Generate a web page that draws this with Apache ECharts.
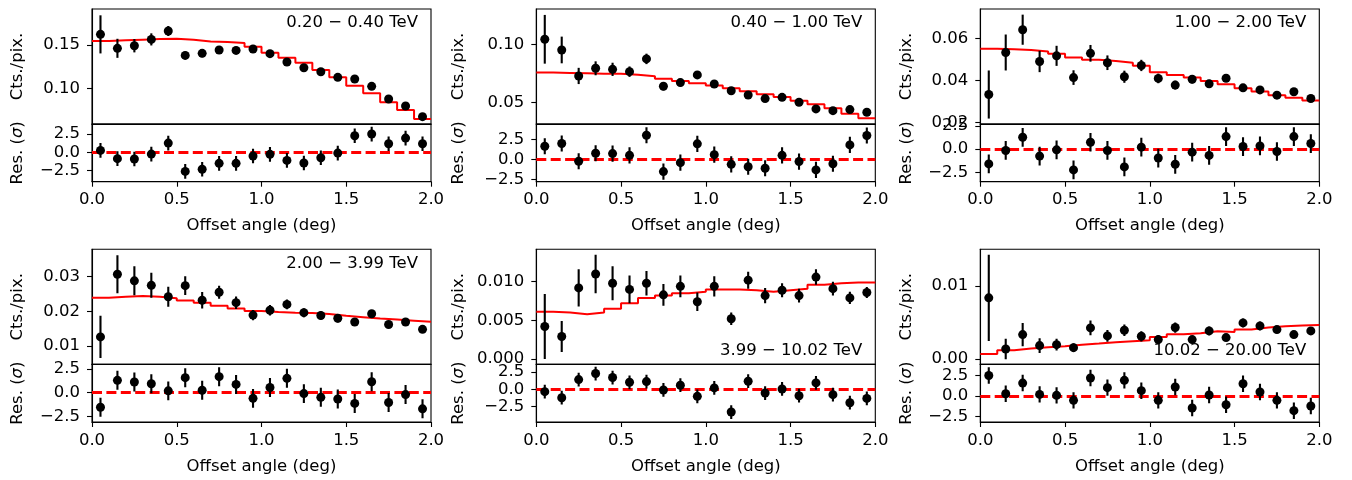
<!DOCTYPE html>
<html>
<head>
<meta charset="utf-8">
<script src="https://cdn.jsdelivr.net/npm/echarts@6/dist/echarts.min.js"></script>
<style>
html,body{margin:0;padding:0;background:#fff;}
#chart{width:1352px;height:480px;}
</style>
</head>
<body>
<div id="chart"></div>
<script>
// ---------- data ----------
const offsets = [0.05,0.15,0.25,0.35,0.45,0.55,0.65,0.75,0.85,0.95,1.05,1.15,1.25,1.35,1.45,1.55,1.65,1.75,1.85,1.95];
const binEdges = [0,0.1,0.2,0.3,0.4,0.5,0.6,0.7,0.8,0.9,1.0,1.1,1.2,1.3,1.4,1.5,1.6,1.7,1.8,1.9,2.0];
const xTicks = [0, 0.5, 1.0, 1.5, 2.0];
const resTicks = [-2.5, 0, 2.5];
const RES_ERR = 1;
const ZERO_LINE = 0;

const energyLabels = ['0.20 \u2212 0.40 TeV','0.40 \u2212 1.00 TeV','1.00 \u2212 2.00 TeV','2.00 \u2212 3.99 TeV','3.99 \u2212 10.02 TeV','10.02 \u2212 20.00 TeV'];

// 0.20 - 0.40 TeV
const cts1 = [0.1623,0.1462,0.1492,0.1565,0.1662,0.1380,0.1404,0.1442,0.1438,0.1454,0.1400,0.1304,0.1238,0.1192,0.1127,0.1108,0.1023,0.0877,0.0796,0.0673];
const err1 = [0.022,0.011,0.0077,0.007,0.0058,0.0045,0.0045,0.0043,0.0042,0.004,0.004,0.004,0.0038,0.0037,0.0036,0.0035,0.0034,0.0032,0.0031,0.003];
const model1 = [0.1546,0.1554,0.1562,0.1569,0.1573,0.1562,0.1542,0.1535,0.1523,0.1481,0.1412,0.1354,0.1296,0.1212,0.1127,0.1031,0.0942,0.0838,0.0750,0.0646];
const res1 = [0.27,-0.86,-0.9,-0.23,1.27,-2.6,-2.3,-1.5,-1.5,-0.5,-0.27,-1.1,-1.45,-0.73,-0.1,2.27,2.5,1.18,1.95,1.18];
const ticks1 = [0.10, 0.15];

// 0.40 - 1.00 TeV
const cts2 = [0.1043,0.0951,0.0727,0.0793,0.0784,0.0764,0.0874,0.0638,0.0670,0.0736,0.0658,0.0600,0.0563,0.0532,0.0543,0.0500,0.0443,0.0428,0.0437,0.0414];
const err2 = [0.021,0.0115,0.007,0.006,0.0057,0.0045,0.0045,0.0035,0.0033,0.0033,0.003,0.003,0.0028,0.0027,0.0027,0.0025,0.0024,0.0023,0.0023,0.0022];
const model2 = [0.0756,0.0753,0.0750,0.0747,0.0747,0.0738,0.0724,0.0704,0.0684,0.0664,0.0644,0.0621,0.0595,0.0569,0.0546,0.0514,0.0483,0.0448,0.0402,0.0362];
const res2 = [1.64,1.98,-0.22,0.78,0.73,0.52,3.0,-1.5,-0.39,1.94,0.6,-0.6,-0.9,-1.08,0.52,-0.26,-1.29,-0.52,1.81,2.97];
const ticks2 = [0.05, 0.10];

// 1.00 - 2.00 TeV
const cts3 = [0.0333,0.0534,0.0643,0.0491,0.0518,0.0414,0.0530,0.0485,0.0418,0.0472,0.0410,0.0378,0.0406,0.0384,0.0411,0.0365,0.0355,0.0330,0.0346,0.0314];
const err3 = [0.0115,0.0086,0.0072,0.0051,0.0048,0.0035,0.004,0.0035,0.0029,0.0027,0.0023,0.0021,0.002,0.0019,0.0018,0.0017,0.0016,0.0015,0.0015,0.0014];
const model3 = [0.0552,0.0550,0.0546,0.0539,0.0528,0.0510,0.0499,0.0493,0.0485,0.0470,0.0440,0.0426,0.0414,0.0398,0.0382,0.0363,0.0347,0.0330,0.0318,0.0304];
const res3 = [-1.58,-0.14,1.27,-0.74,-0.07,-2.22,0.74,-0.14,-1.9,0.21,-0.95,-1.62,-0.32,-0.67,1.34,0.28,0.35,-0.25,1.34,0.6];
const ticks3 = [0.02, 0.04, 0.06];

// 2.00 - 3.99 TeV
const cts4 = [0.0126,0.0307,0.0288,0.0275,0.0242,0.0274,0.0232,0.0255,0.0225,0.0189,0.0203,0.0220,0.0196,0.0188,0.0180,0.0169,0.0193,0.0162,0.0169,0.0148];
const err4 = [0.0061,0.0055,0.0042,0.0036,0.0029,0.0027,0.0024,0.0019,0.0018,0.0015,0.0015,0.0014,0.0013,0.0012,0.0012,0.0011,0.0011,0.001,0.001,0.001];
const model4 = [0.0239,0.0242,0.0244,0.0242,0.0238,0.0231,0.0225,0.0216,0.0208,0.0201,0.0198,0.0196,0.0195,0.0192,0.0187,0.0183,0.0179,0.0176,0.0173,0.0170];
const res4 = [-1.54,1.29,1.11,0.93,0.18,1.57,0.25,1.68,0.86,-0.61,0.54,1.5,-0.11,-0.5,-0.68,-1.14,1.14,-1.04,-0.21,-1.71];
const ticks4 = [0.01, 0.02, 0.03];

// 3.99 - 10.02 TeV
const cts5 = [0.0042,0.0029,0.0092,0.0110,0.0098,0.0090,0.0098,0.0083,0.0094,0.0074,0.0094,0.0052,0.0102,0.0082,0.0089,0.0082,0.0106,0.0091,0.0079,0.0086];
const err5 = [0.0042,0.002,0.0024,0.0025,0.0022,0.0018,0.0016,0.0014,0.0014,0.0012,0.0013,0.0008,0.0011,0.001,0.0009,0.0009,0.001,0.0009,0.0008,0.0007];
const model5 = [0.0061,0.0060,0.0058,0.0060,0.0065,0.0072,0.0079,0.0082,0.0085,0.0087,0.0090,0.0090,0.0089,0.0087,0.0089,0.0091,0.0096,0.0098,0.0099,0.0099];
const res5 = [-0.34,-1.22,1.41,2.29,1.71,1.02,1.12,-0.1,0.59,-1.02,0.2,-3.3,1.17,-0.54,0.05,-0.93,0.93,-0.78,-1.95,-1.32];
const ticks5 = [0.000, 0.005, 0.010];

// 10.02 - 20.00 TeV
const cts6 = [0.00836,0.00137,0.00333,0.00183,0.00196,0.00155,0.00425,0.00315,0.00393,0.0031,0.00265,0.0043,0.00265,0.00384,0.00292,0.00493,0.00452,0.00402,0.00333,0.00384];
const err6 = [0.0059,0.0014,0.0016,0.001,0.0008,0.0006,0.001,0.0008,0.0008,0.0007,0.0006,0.0007,0.0005,0.0006,0.0005,0.0006,0.0006,0.0005,0.0004,0.0004];
const model6 = [0.00068,0.00119,0.00142,0.0016,0.00174,0.00196,0.0021,0.00228,0.00242,0.00256,0.00301,0.00338,0.00352,0.00379,0.0037,0.00402,0.00429,0.00447,0.00457,0.00466];
const res6 = [2.5,0.28,1.58,0.2,0.08,-0.53,2.2,1.02,1.91,0.65,-0.53,1.1,-1.46,0.12,-1.06,1.5,0.49,-0.53,-1.79,-1.22];
const ticks6 = [0.00, 0.01];

// ---------- layout / style ----------
const FONT = "'DejaVu Sans', sans-serif";
const FS = 16.5;
const colLeft = [92, 536.3, 980.3];
const PW = 339;
const mainTop = [9, 249.3];
const MAIN_H = 115;
const RES_H = 57.7;
const labelDec = [2, 2, 2, 2, 3, 2];
const mainRange = [[0.0588, 0.1916],[0.0313, 0.1304],[0.0192, 0.0742],[0.0047, 0.0379],[-0.0007, 0.0142],[-0.00073, 0.0150]];
const resRange = [[-4.0, 3.87],[-2.75, 4.4],[-3.48, 2.69],[-3.1, 2.98],[-4.75, 3.63],[-3.17, 3.87]];
const labelAtBottom = [false,false,false,false,true,true];
const nameGaps = [66, 69, 65, 66, 69, 65];

const panels = [
  {cts: cts1, err: err1, model: model1, res: res1, ticks: ticks1},
  {cts: cts2, err: err2, model: model2, res: res2, ticks: ticks2},
  {cts: cts3, err: err3, model: model3, res: res3, ticks: ticks3},
  {cts: cts4, err: err4, model: model4, res: res4, ticks: ticks4},
  {cts: cts5, err: err5, model: model5, res: res5, ticks: ticks5},
  {cts: cts6, err: err6, model: model6, res: res6, ticks: ticks6}
];

const fmtMinus = (s) => s.replace('-', '\u2212');
const textBase = {color: '#000', fontFamily: FONT, fontSize: FS};

const grid = [], xAxis = [], yAxis = [], series = [], graphic = [];

function errRender(params, api) {
  const x = api.value(0), y = api.value(1), e = api.value(2);
  const p1 = api.coord([x, y - e]);
  const p2 = api.coord([x, y + e]);
  return {type: 'line', shape: {x1: p1[0], y1: p1[1], x2: p2[0], y2: p2[1]},
          style: {stroke: '#000', lineWidth: 2.1}};
}

panels.forEach((P, i) => {
  const col = i % 3, row = Math.floor(i / 3);
  const left = colLeft[col];
  const top = mainTop[row];
  const gMain = grid.length;
  grid.push({left: left, top: top, width: PW, height: MAIN_H, show: true, borderColor: '#000', borderWidth: 1.1, backgroundColor: 'transparent'});
  grid.push({left: left, top: top + MAIN_H, width: PW, height: RES_H, show: true, borderColor: '#000', borderWidth: 1.1, backgroundColor: 'transparent'});
  const gRes = gMain + 1;

  xAxis.push({type: 'value', gridIndex: gMain, min: 0, max: 2, interval: 0.5,
    axisLine: {show: true, onZero: false, lineStyle: {color: '#000', width: 1.1}},
    axisTick: {show: false}, axisLabel: {show: false}, splitLine: {show: false}});
  xAxis.push({type: 'value', gridIndex: gRes, min: 0, max: 2, interval: 0.5,
    name: 'Offset angle (deg)', nameLocation: 'middle', nameGap: 36,
    nameTextStyle: Object.assign({}, textBase),
    axisLine: {show: true, onZero: false, lineStyle: {color: '#000', width: 1.1}},
    axisTick: {show: true, inside: false, length: 5, lineStyle: {color: '#000', width: 1.1}, customValues: xTicks},
    axisLabel: Object.assign({show: true, margin: 10, customValues: xTicks, formatter: v => v.toFixed(1)}, textBase),
    splitLine: {show: false}});

  const dec = labelDec[i];
  yAxis.push({type: 'value', gridIndex: gMain, min: mainRange[i][0], max: mainRange[i][1],
    name: 'Cts./pix.', nameLocation: 'middle', nameGap: nameGaps[i],
    nameTextStyle: Object.assign({}, textBase),
    axisLine: {show: true, onZero: false, lineStyle: {color: '#000', width: 1.1}},
    axisTick: {show: true, inside: false, length: 5, lineStyle: {color: '#000', width: 1.1}, customValues: P.ticks},
    axisLabel: Object.assign({show: true, margin: 12, customValues: P.ticks, formatter: v => fmtMinus(v.toFixed(dec))}, textBase),
    splitLine: {show: false}});
  yAxis.push({type: 'value', gridIndex: gRes, min: resRange[i][0], max: resRange[i][1],
    name: 'Res. ({it|\u03c3})', nameLocation: 'middle', nameGap: nameGaps[i],
    nameTextStyle: Object.assign({rich: {it: {fontStyle: 'italic', fontFamily: FONT, fontSize: FS, color: '#000'}}}, textBase),
    axisLine: {show: true, onZero: false, lineStyle: {color: '#000', width: 1.1}},
    axisTick: {show: true, inside: false, length: 5, lineStyle: {color: '#000', width: 1.1}, customValues: resTicks},
    axisLabel: Object.assign({show: true, margin: 12, customValues: resTicks, formatter: v => fmtMinus(v.toFixed(1))}, textBase),
    splitLine: {show: false}});

  // model step line (held across each bin)
  const stepData = binEdges.map((e, k) => [e, P.model[Math.min(k, P.model.length - 1)]]);
  series.push({type: 'line', xAxisIndex: gMain, yAxisIndex: gMain, data: stepData, step: 'end',
    showSymbol: false, symbol: 'none', clip: true, silent: true, z: 3,
    lineStyle: {color: '#ff0000', width: 2}});
  // error bars main
  series.push({type: 'custom', xAxisIndex: gMain, yAxisIndex: gMain, clip: true, silent: true, z: 8,
    data: offsets.map((x, k) => [x, P.cts[k], P.err[k]]), renderItem: errRender});
  series.push({type: 'scatter', xAxisIndex: gMain, yAxisIndex: gMain, symbol: 'circle', symbolSize: 9,
    clip: true, silent: true, z: 10, itemStyle: {color: '#000', opacity: 1},
    data: offsets.map((x, k) => [x, P.cts[k]])});
  // residuals
  series.push({type: 'custom', xAxisIndex: gRes, yAxisIndex: gRes, clip: true, silent: true, z: 8,
    data: offsets.map((x, k) => [x, P.res[k], RES_ERR]), renderItem: errRender,
    markLine: {silent: true, symbol: 'none', label: {show: false}, animation: false,
      lineStyle: {color: '#ff0000', width: 2.8, type: [10, 4.4], opacity: 1},
      data: [{yAxis: ZERO_LINE}]}});
  series.push({type: 'scatter', xAxisIndex: gRes, yAxisIndex: gRes, symbol: 'circle', symbolSize: 9,
    clip: true, silent: true, z: 10, itemStyle: {color: '#000', opacity: 1},
    data: offsets.map((x, k) => [x, P.res[k]])});

  // energy range label
  const ty = labelAtBottom[i] ? top + MAIN_H - 14 : top + 14;
  graphic.push({type: 'text', x: left + PW - 13, y: ty, silent: true, z: 20,
    style: {text: energyLabels[i], fill: '#000', font: FS + 'px ' + FONT,
            align: 'right', verticalAlign: 'middle', textAlign: 'right', textVerticalAlign: 'middle'}});
});

const chart = echarts.init(document.getElementById('chart'), null, {renderer: 'canvas'});
chart.setOption({
  animation: false,
  backgroundColor: '#fff',
  grid: grid, xAxis: xAxis, yAxis: yAxis, series: series, graphic: graphic
});
</script>
</body>
</html>
